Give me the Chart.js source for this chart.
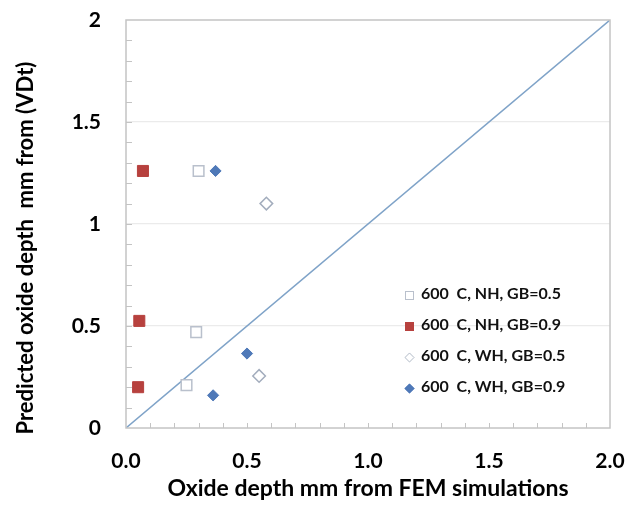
<!DOCTYPE html>
<html>
<head>
<meta charset="utf-8">
<script src="https://cdn.jsdelivr.net/npm/chart.js@4/dist/chart.umd.min.js"></script>
<style>
  body { margin: 0; background: #fff; }
  #wrap { position: relative; width: 644px; height: 506px; }
  #legend { position: absolute; left: 405px; top: 281px; font: bold 16px Lato, sans-serif; color: #111; }
  .row { height: 31px; line-height: 24px; white-space: pre; }
  .sym { display: inline-block; width: 9px; height: 9px; margin-right: 7px; vertical-align: -1px; box-sizing: border-box; }
</style>
</head>
<body>
<div id="wrap">
  <canvas id="oxideChart" width="644" height="506"></canvas>
  <div id="legend"></div>
</div>
<script>
const seriesLabels = ['600  C, NH, GB=0.5', '600  C, NH, GB=0.9', '600  C, WH, GB=0.5', '600  C, WH, GB=0.9'];

const nh05X = [0.30, 0.29, 0.25];
const nh05Y = [1.26, 0.47, 0.21];
const nh09X = [0.07, 0.055, 0.05];
const nh09Y = [1.26, 0.525, 0.20];
const wh05X = [0.58, 0.55];
const wh05Y = [1.10, 0.255];
const wh09X = [0.37, 0.50, 0.36];
const wh09Y = [1.26, 0.365, 0.16];

const refLineX = [0, 2];
const refLineY = [0, 2];

const xTicks = [0, 0.5, 1, 1.5, 2];
const yTicks = [0, 0.5, 1, 1.5, 2];

function pts(xs, ys) {
    return xs.map((x, i) => ({ x: x, y: ys[i] }));
}

const frameColor = '#c4c4c4';

// inward minor ticks + box frame
const framePlugin = {
    id: 'frame',
    afterDraw(chart) {
        const { ctx, chartArea: a, scales } = chart;
        ctx.save();
        ctx.strokeStyle = frameColor;
        ctx.lineWidth = 1;
        for (let i = 1; i < 20; i++) {
            const px = Math.round(scales.x.getPixelForValue(i / 10)) + 0.5;
            ctx.beginPath();
            ctx.moveTo(px, a.bottom);
            ctx.lineTo(px, a.bottom - 5);
            ctx.stroke();
            const py = Math.round(scales.y.getPixelForValue(i / 10)) + 0.5;
            ctx.beginPath();
            ctx.moveTo(a.left, py);
            ctx.lineTo(a.left + 6, py);
            ctx.stroke();
        }
        ctx.lineWidth = 1.5;
        ctx.strokeRect(a.left, a.top, a.right - a.left, a.bottom - a.top);
        ctx.restore();
    }
};

const datasets = [
    {
        label: seriesLabels[0], data: pts(nh05X, nh05Y),
        pointStyle: 'rect', pointRadius: 7.5, pointHoverRadius: 7.5,
        backgroundColor: '#ffffff', borderColor: '#b9c0cc', borderWidth: 1.5
    },
    {
        label: seriesLabels[1], data: pts(nh09X, nh09Y),
        pointStyle: 'rect', pointRadius: 7.8, pointHoverRadius: 7.8,
        backgroundColor: '#b7413e', borderColor: '#b7413e', borderWidth: 1
    },
    {
        label: seriesLabels[2], data: pts(wh05X, wh05Y),
        pointStyle: 'rectRot', pointRadius: 6.3, pointHoverRadius: 6.3,
        backgroundColor: '#ffffff', borderColor: '#a3adbd', borderWidth: 1.5
    },
    {
        label: seriesLabels[3], data: pts(wh09X, wh09Y),
        pointStyle: 'rectRot', pointRadius: 5.6, pointHoverRadius: 5.6,
        backgroundColor: '#4f79b8', borderColor: '#4f79b8', borderWidth: 1
    },
    {
        label: 'y = x', data: pts(refLineX, refLineY),
        showLine: true, pointRadius: 0, borderColor: '#7fa3c8', borderWidth: 1.5, fill: false
    }
];

const ctx = document.getElementById('oxideChart').getContext('2d');
new Chart(ctx, {
    type: 'scatter',
    data: { datasets: datasets },
    options: {
        responsive: false,
        animation: false,
        layout: { padding: { top: 20, right: 34, left: 0, bottom: 0 } },
        plugins: {
            legend: { display: false },
            tooltip: { enabled: false }
        },
        scales: {
            x: {
                type: 'linear', min: 0, max: 2,
                afterFit(scale) {
                    scale.height = 78;
                    scale.paddingLeft = 0;
                    scale.paddingRight = 0;
                },
                afterBuildTicks(scale) { scale.ticks = xTicks.map(v => ({ value: v })); },
                grid: { display: false, drawTicks: false },
                border: { display: false },
                ticks: {
                    padding: 21,
                    color: '#000',
                    font: { family: 'Lato', size: 21, weight: 'bold' },
                    callback: v => v.toFixed(1)
                },
                title: {
                    display: true, text: 'Oxide depth mm from FEM simulations',
                    color: '#000', font: { family: 'Lato', size: 23, weight: 'bold' },
                    padding: { top: 0, bottom: 4 }
                }
            },
            y: {
                type: 'linear', min: 0, max: 2,
                afterFit(scale) {
                    scale.width = 126;
                    scale.paddingTop = 0;
                    scale.paddingBottom = 0;
                },
                afterBuildTicks(scale) { scale.ticks = yTicks.map(v => ({ value: v })); },
                grid: {
                    drawTicks: false,
                    color: c => (c.tick.value > 0 && c.tick.value < 2) ? '#ebebeb' : 'rgba(0,0,0,0)',
                    lineWidth: 1.2
                },
                border: { display: false },
                ticks: {
                    padding: 25,
                    color: '#000',
                    font: { family: 'Lato', size: 21, weight: 'bold' },
                    callback: v => String(v)
                },
                title: {
                    display: true, text: 'Predicted oxide depth  mm from (VDt)' + '\u00a0'.repeat(9),
                    color: '#000', font: { family: 'Lato', size: 22, weight: 'bold' },
                    padding: { top: 13, bottom: 0 }
                }
            }
        }
    },
    plugins: [framePlugin]
});

// legend drawn inside the plot, from the dataset styles
const legend = document.getElementById('legend');
datasets.slice(0, 4).forEach(ds => {
    const row = document.createElement('div');
    row.className = 'row';
    const sym = document.createElement('span');
    sym.className = 'sym';
    sym.style.background = ds.backgroundColor;
    sym.style.border = '1.5px solid ' + ds.borderColor;
    if (ds.pointStyle === 'rectRot') {
        sym.style.transform = 'rotate(45deg) scale(0.8)';
    }
    row.appendChild(sym);
    row.appendChild(document.createTextNode(ds.label));
    legend.appendChild(row);
});
</script>
</body>
</html>
